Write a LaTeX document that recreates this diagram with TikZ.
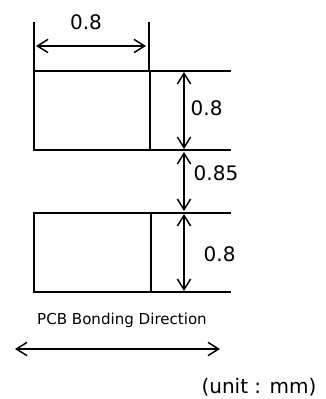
\documentclass[tikz,border=0pt]{standalone}
\usepackage{fontspec}
\setmainfont{DejaVu Sans}
\usetikzlibrary{arrows.meta}
\tikzset{
  dim/.style={{Straight Barb[length=8pt,width=10pt]}-{Straight Barb[length=8pt,width=10pt]}},
  dimlabel/.style={font=\fontsize{15}{18}\selectfont, inner sep=0pt},
  pad/.style={line width=1.1pt}
}
\begin{document}
\begin{tikzpicture}[x=0.75pt,y=-0.75pt,line width=1.1pt]
  \useasboundingbox (0,0) rectangle (325,399);
  % pads
  \draw[pad] (34,71) rectangle (150,150);
  \draw[pad] (34,213) rectangle (151,292);
  \coordinate (t1) at (231,71);
  \coordinate (t2) at (231,150);
  \coordinate (b1) at (231,213);
  \coordinate (b2) at (231,292);
  \draw (150,71) -- (t1);
  \draw (150,150) -- (t2);
  \draw (151,213) -- (b1);
  \draw (151,292) -- (b2);
  % width
  \draw (34,22) -- (34,71);
  \draw (149,22) -- (149,71);
  \coordinate (wl) at (36,46);
  \coordinate (wr) at (146,46);
  \draw[dim] (wl) -- (wr);
  \node[dimlabel] (wtext) at (86,22) {0.8};
  % heights and gap
  \coordinate (h1) at (184,72);
  \coordinate (h2) at (184,149);
  \coordinate (g1) at (184,152);
  \coordinate (g2) at (184,211);
  \coordinate (h3) at (184,214);
  \coordinate (h4) at (184,291);
  \draw[dim] (h1) -- (h2);
  \draw[dim] (g1) -- (g2);
  \draw[dim] (h3) -- (h4);
  \node[dimlabel, anchor=west] (htop) at (190,108) {0.8};
  \node[dimlabel, anchor=west] (gap) at (193,173) {0.85};
  \node[dimlabel, anchor=west] (hbot) at (203,254) {0.8};
  % bonding direction
  \node[font=\fontsize{11.3}{13}\selectfont, inner sep=0pt] (pcb) at (122,320) {PCB Bonding Direction};
  \coordinate (dl) at (15,349);
  \coordinate (dr) at (220,349);
  \draw[dim] (dl) -- (dr);
  \node[dimlabel] (unit) at (259,387) {(unit : mm)};
\end{tikzpicture}
\end{document}
